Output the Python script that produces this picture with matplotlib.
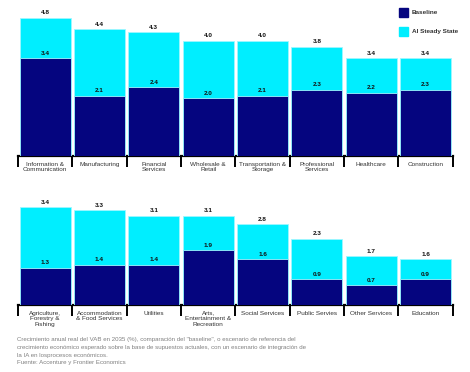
import matplotlib
matplotlib.use("Agg")
import matplotlib.pyplot as plt
from matplotlib.patches import Rectangle
import numpy as np

# Sector data (real GVA growth in 2035, %)
sectors_top = ["Information &\nCommunication", "Manufacturing", "Financial\nServices",
               "Wholesale &\nRetail", "Transportation &\nStorage", "Professional\nServices",
               "Healthcare", "Construction"]
baseline_top = [3.4, 2.1, 2.4, 2.0, 2.1, 2.3, 2.2, 2.3]
ai_top = [4.8, 4.4, 4.3, 4.0, 4.0, 3.8, 3.4, 3.4]

sectors_bottom = ["Agriculture,\nForestry &\nFishing", "Accommodation\n& Food Services", "Utilities",
                  "Arts,\nEntertainment &\nRecreation", "Social Services", "Public Servies",
                  "Other Services", "Education"]
baseline_bottom = [1.3, 1.4, 1.4, 1.9, 1.6, 0.9, 0.7, 0.9]
ai_bottom = [3.4, 3.3, 3.1, 3.1, 2.8, 2.3, 1.7, 1.6]

legend_labels = ["Baseline", "AI Steady State"]
footnote = ("Crecimiento anual real del VAB en 2035 (%), comparación del \"baseline\", o escenario de referencia del\n"
            "crecimiento económico esperado sobre la base de supuestos actuales, con un escenario de integración de\n"
            "la IA en losprocesos económicos.\n"
            "Fuente: Accenture y Frontier Economics")

NAVY = "#05057f"
CYAN = "#00eeff"
FONT = "Liberation Sans"

W, H = 470, 372
fig = plt.figure(figsize=(W / 100, H / 100), dpi=100)

px_per_unit = 28.8
left = 18 / W
width = 434.7 / W


def draw_panel(ax, labels, base, ai):
    x = np.arange(len(labels))
    ax.bar(x, ai, width=0.94, color=CYAN, edgecolor="#9ff7ff", linewidth=0.6, zorder=2)
    ax.bar(x, base, width=0.94, color=NAVY, edgecolor="#9ff7ff", linewidth=0.6, zorder=3)
    for xi, b, a in zip(x, base, ai):
        ax.text(xi, a + 0.08, f"{a:.1f}", ha="center", va="bottom", fontsize=4.6,
                fontweight="bold", family=FONT, color="#111111", zorder=4)
        ax.text(xi, b + 0.08, f"{b:.1f}", ha="center", va="bottom", fontsize=4.6,
                fontweight="bold", family=FONT, color="#111111", zorder=4)
    ax.set_xlim(-0.5, len(labels) - 0.5)
    ax.set_xticks(x)
    ax.set_xticklabels(labels, fontsize=4.6, family=FONT, color="#333333", linespacing=1.15)
    ax.tick_params(axis="x", which="major", length=0, pad=4)
    ax.set_xticks(np.arange(len(labels) + 1) - 0.5, minor=True)
    ax.tick_params(axis="x", which="minor", length=8, width=1.4, color="black", direction="out")
    ax.set_yticks([])
    for s in ["top", "right", "left"]:
        ax.spines[s].set_visible(False)
    ax.spines["bottom"].set_linewidth(1.6)
    ax.set_facecolor("none")


# top panel
ymax_top = 5.0
ax1 = fig.add_axes([left, 1 - 156 / H, width, ymax_top * px_per_unit / H])
ax1.set_ylim(0, ymax_top)
draw_panel(ax1, sectors_top, baseline_top, ai_top)

# bottom panel
ymax_bot = 3.8
ax2 = fig.add_axes([left, 1 - 305 / H, width, ymax_bot * px_per_unit / H])
ax2.set_ylim(0, ymax_bot)
draw_panel(ax2, sectors_bottom, baseline_bottom, ai_bottom)

# legend (manual squares)
for i, (lab, col) in enumerate(zip(legend_labels, [NAVY, CYAN])):
    y0 = 8 + i * 19
    fig.patches.append(Rectangle((399 / W, 1 - (y0 + 9) / H), 9 / W, 9 / H,
                                 transform=fig.transFigure, color=col, figure=fig))
    fig.text(412 / W, 1 - (y0 + 4.5) / H, lab, fontsize=4.6, fontweight="bold",
             family=FONT, color="#333333", va="center", ha="left")

fig.text(17 / W, 1 - 337.5 / H, footnote, fontsize=4.4, family=FONT, color="#808080",
         va="top", ha="left", linespacing=1.65)

fig.savefig("out.png", dpi=100)
